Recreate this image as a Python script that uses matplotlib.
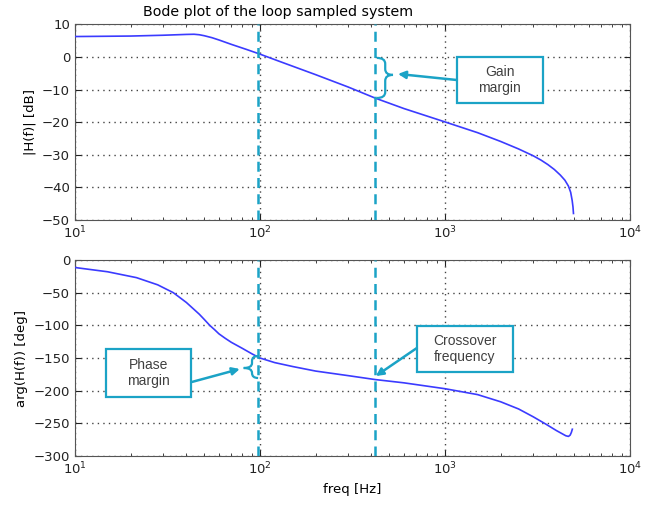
import matplotlib
matplotlib.use("Agg")
import matplotlib.pyplot as plt
from matplotlib.patches import Rectangle, PathPatch
from matplotlib.path import Path

# magnitude response
freq_mag = [10, 20, 30, 40, 44, 47, 50, 55, 60, 70, 85, 100, 130, 200, 300,
            420, 600, 1000, 1500, 2000, 2500, 3000, 3300, 3600, 3900, 4200,
            4450, 4650, 4780, 4870, 4920, 4950]
mag_db = [6.3, 6.45, 6.7, 6.95, 7.0, 6.85, 6.55, 5.95, 5.25, 3.9, 2.3, 0.9,
          -1.5, -5.4, -9.2, -12.6, -15.8, -19.9, -23.2, -25.9, -28.2, -30.3,
          -31.6, -33.0, -34.5, -36.2, -37.8, -39.6, -41.5, -44.0, -46.0, -48.0]

# phase response
freq_ph = [10, 15, 21.5, 28, 34, 40, 47, 50, 53.5, 57, 60, 65, 70, 80, 91,
           100, 120, 150, 200, 300, 420, 600, 1000, 1500, 2000, 2500, 3000,
           3500, 4000, 4500, 4650, 4750, 4820, 4880]
phase_deg = [-11.5, -18, -27, -38, -50, -65, -83, -91, -100, -107, -113, -120,
             -126, -135, -144, -150, -157, -163, -170, -177, -183, -188, -197,
             -206, -217, -228, -240, -251, -261, -269, -270, -268, -264, -259]

phase_margin_freq = 98
crossover_freq = 421

TEAL = '#1ba3c6'
BLUE = '#3b3bff'
TXT = '#404040'


def style_axis(ax, ylim, yticks):
    ax.set_xscale('log')
    ax.set_xlim(10, 1e4)
    ax.set_ylim(*ylim)
    ax.set_yticks(yticks)
    ax.grid(True, which='major', linestyle=(0, (1, 3)), color='#444444', linewidth=1)
    ax.tick_params(which='both', direction='in', top=True, right=True,
                   labelsize=9.5, colors='#222222')
    ax.tick_params(which='major', length=4)
    ax.tick_params(which='minor', length=2)
    for s in ax.spines.values():
        s.set_color('#555555')


def draw_box(ax, x0, y0, w, h, text):
    ax.add_patch(Rectangle((x0, y0), w, h, transform=ax.transAxes, fill=True,
                           facecolor='white', edgecolor=TEAL, lw=1.6, zorder=5))
    ax.text(x0 + w / 2, y0 + h / 2, text, transform=ax.transAxes,
            ha='center', va='center', fontsize=10, color=TXT,
            family='Liberation Sans', linespacing=1.25, zorder=6)


def draw_arrow(ax, tail, tip):
    ax.annotate('', xy=tip, xytext=tail, xycoords='axes fraction',
                textcoords='axes fraction', zorder=6,
                arrowprops=dict(arrowstyle='-|>', color=TEAL, lw=1.8,
                                mutation_scale=11, shrinkA=0, shrinkB=0))


def draw_brace(ax, xe, xs, xt, yt, yb, ym, r):
    verts = [(xe, yt), (xs, yt), (xs, yt - r), (xs, ym + r), (xs, ym), (xt, ym),
             (xs, ym), (xs, ym - r), (xs, yb + r), (xs, yb), (xe, yb)]
    codes = [Path.MOVETO, Path.CURVE3, Path.CURVE3, Path.LINETO, Path.CURVE3,
             Path.CURVE3, Path.CURVE3, Path.CURVE3, Path.LINETO, Path.CURVE3,
             Path.CURVE3]
    ax.add_patch(PathPatch(Path(verts, codes), transform=ax.transAxes,
                           fill=False, edgecolor=TEAL, lw=1.6, zorder=6))


fig = plt.figure(figsize=(6.6, 5.09), dpi=100)
ax1 = fig.add_axes([0.1136, 0.5678, 0.8409, 0.3841])
ax2 = fig.add_axes([0.1136, 0.1041, 0.8409, 0.3851])

ax1.plot(freq_mag, mag_db, color=BLUE, lw=1.2, zorder=3)
style_axis(ax1, (-50, 10), [10, 0, -10, -20, -30, -40, -50])
ax1.set_ylabel('|H(f)| [dB]', fontsize=9.5)
ax1.set_title('Bode plot of the loop sampled system', fontsize=10.3, x=0.366)

ax2.plot(freq_ph, phase_deg, color=BLUE, lw=1.2, zorder=3)
style_axis(ax2, (-300, 0), [0, -50, -100, -150, -200, -250, -300])
ax2.set_ylabel('arg(H(f)) [deg]', fontsize=9.5)
ax2.set_xlabel('freq [Hz]', fontsize=9.5)

for ax in (ax1, ax2):
    ax.axvline(phase_margin_freq, color=TEAL, lw=1.8, ls=(0, (4, 2.5)), zorder=4)
    ax.axvline(crossover_freq, color=TEAL, lw=1.8, ls=(0, (4, 2.5)), zorder=4)

draw_box(ax1, 0.688, 0.598, 0.155, 0.235, 'Gain\nmargin')
draw_arrow(ax1, (0.688, 0.716), (0.582, 0.747))
draw_brace(ax1, 0.544, 0.559, 0.573, 0.829, 0.624, 0.742, 0.03)

draw_box(ax2, 0.056, 0.301, 0.153, 0.245, 'Phase\nmargin')
draw_arrow(ax2, (0.211, 0.378), (0.297, 0.444))
draw_brace(ax2, 0.330, 0.319, 0.304, 0.510, 0.398, 0.449, 0.025)

draw_box(ax2, 0.616, 0.429, 0.173, 0.235, 'Crossover\nfrequency')
draw_arrow(ax2, (0.616, 0.551), (0.542, 0.408))

fig.savefig('out.png', dpi=100)
